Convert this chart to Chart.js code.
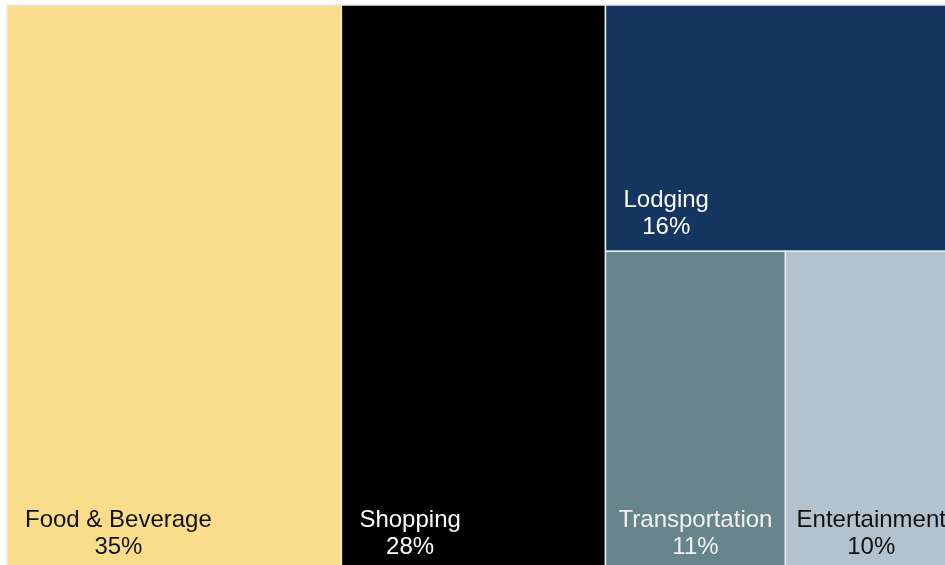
<!DOCTYPE html>
<html>
<head>
<meta charset="utf-8">
<script src="https://cdn.jsdelivr.net/npm/chart.js@4.4.1/dist/chart.umd.min.js"></script>
<style>
  html, body { margin: 0; padding: 0; background: #ffffff; overflow: hidden; }
  #wrap { position: absolute; left: 0; top: 0; width: 964px; height: 576px; }
</style>
</head>
<body>
<div id="wrap"><canvas id="treemapChart" width="964" height="576"></canvas></div>
<script>
// spending categories and their share of the total (percent)
var categories = ['Food & Beverage', 'Shopping', 'Lodging', 'Transportation', 'Entertainment'];
var shares = [35.2, 27.8, 16.1, 10.7, 10.2];
var tileColors = ['#FADD8B', '#000000', '#153660', '#66868B', '#B4C2CE'];
var labelColors = ['#111111', '#ffffff', '#ffffff', '#f2f2f2', '#111111'];

// treemap structure: columns, each column is a list of rows, each row a list of category indexes
var columns = [
    [[0]],
    [[1]],
    [[2], [3, 4]]
];

// work out tile rectangles in data units (x 0..100 left to right, y 0..100 top to bottom)
function layoutTiles() {
    var total = shares.reduce((a, b) => a + b, 0);
    var tiles = [];
    var x = 0;
    columns.forEach(function (rows) {
        var colSum = 0;
        rows.forEach(r => r.forEach(i => colSum += shares[i]));
        var colWidth = colSum / total * 100;
        var y = 0;
        rows.forEach(function (row) {
            var rowSum = row.reduce((a, i) => a + shares[i], 0);
            var rowHeight = rowSum / colSum * 100;
            var rx = x;
            row.forEach(function (i) {
                var w = shares[i] / rowSum * colWidth;
                tiles.push({ index: i, x0: rx, x1: rx + w, y0: y, y1: y + rowHeight });
                rx += w;
            });
            y += rowHeight;
        });
        x += colWidth;
    });
    return tiles;
}

var tiles = layoutTiles();

// draws the tiles through the chart's x / y scales
var treemapPlugin = {
    id: 'treemapTiles',
    beforeDatasetsDraw: function (chart) {
        var ctx = chart.ctx;
        var xs = chart.scales.x, ys = chart.scales.y;
        ctx.save();
        tiles.forEach(function (t) {
            var left = xs.getPixelForValue(t.x0);
            var right = xs.getPixelForValue(t.x1);
            var top = ys.getPixelForValue(t.y0);
            var bottom = ys.getPixelForValue(t.y1);
            ctx.fillStyle = tileColors[t.index];
            ctx.fillRect(left, top, right - left, bottom - top);
            ctx.strokeStyle = '#e9e9e9';
            ctx.lineWidth = 1.5;
            ctx.strokeRect(left, top, right - left, bottom - top);

            // label: name with the rounded share under it, near the bottom left
            ctx.font = '24px "Liberation Sans", Arial, sans-serif';
            ctx.fillStyle = labelColors[t.index];
            var name = categories[t.index];
            var tw = ctx.measureText(name).width;
            var nx = left + Math.min(18, (right - left - tw) / 2);
            ctx.textAlign = 'left';
            ctx.textBaseline = 'alphabetic';
            ctx.fillText(name, nx, bottom - 44);
            ctx.textAlign = 'center';
            ctx.fillText(Math.round(shares[t.index]) + '%', nx + tw / 2, bottom - 17);
        });
        ctx.restore();
    }
};

var ctx = document.getElementById('treemapChart').getContext('2d');
var treemapChart = new Chart(ctx, {
    type: 'scatter',
    data: {
        datasets: [{
            label: 'Share',
            data: tiles.map(t => ({ x: (t.x0 + t.x1) / 2, y: (t.y0 + t.y1) / 2 })),
            pointRadius: 0,
            pointHoverRadius: 0
        }]
    },
    options: {
        responsive: false,
        animation: false,
        layout: { padding: { left: 7, top: 5, right: 7, bottom: 5 } },
        plugins: { legend: { display: false }, tooltip: { enabled: false } },
        scales: {
            x: { type: 'linear', min: 0, max: 100, display: false },
            y: { type: 'linear', min: 0, max: 100, reverse: true, display: false }
        }
    },
    plugins: [treemapPlugin]
});
</script>
</body>
</html>
